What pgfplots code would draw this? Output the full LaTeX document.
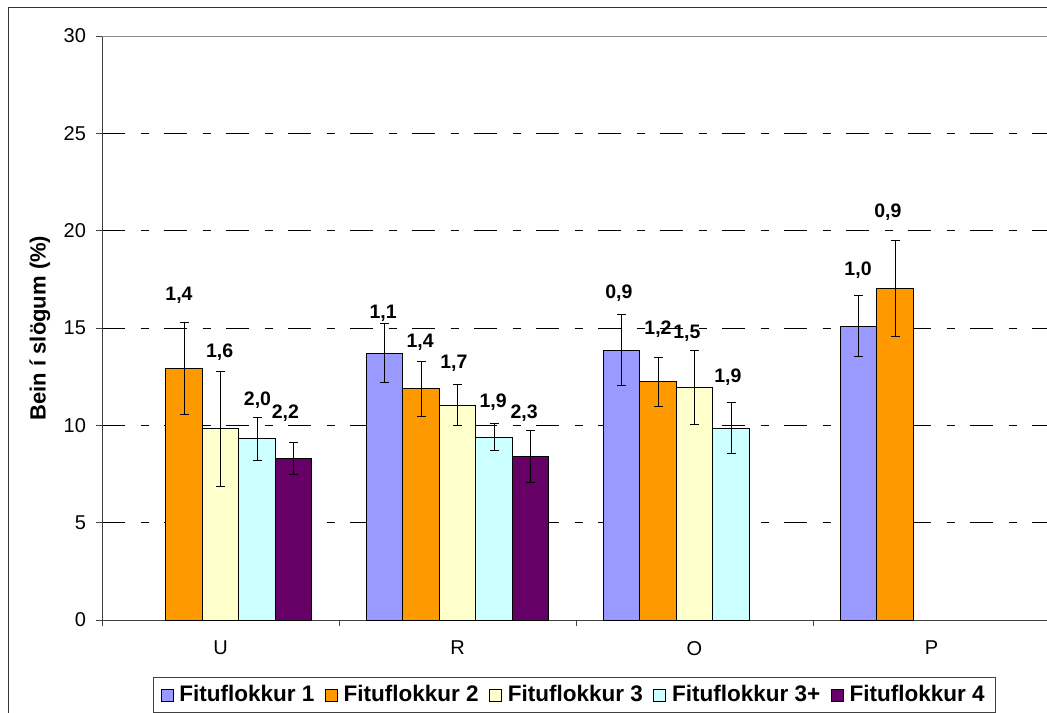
\documentclass[border=0pt]{standalone}
\usepackage{pgfplots}
\pgfplotsset{compat=1.18}
\usepackage{fontspec}
\setmainfont{Liberation Sans}
\definecolor{c1}{HTML}{9999FF}
\definecolor{c2}{HTML}{FF9900}
\definecolor{c3}{HTML}{FFFFCC}
\definecolor{c4}{HTML}{CCFFFF}
\definecolor{c5}{HTML}{660066}
\pgfplotsset{
  eb/.style={
    error bars/y dir=both, error bars/y explicit,
    error bars/error bar style={line width=0.5pt, black},
    error bars/error mark options={black, line width=0.5pt, mark size=2.25pt, rotate=90}
  },
  bs/.style={draw=black, line width=0.5pt, fill=#1}
}
\begin{document}
\begin{tikzpicture}
\path[use as bounding box] (0,0) rectangle (523.5pt,-356pt);
\draw[line width=0.75pt, black!80] (4.15pt,-3.65pt) rectangle (560pt,-400pt);
\begin{axis}[
  at={(51pt,-310pt)}, anchor=south west,
  scale only axis, width=474pt, height=292pt,
  xmin=-0.5, xmax=3.5, ymin=0, ymax=30,
  enlargelimits=false,
  axis x line*=bottom, axis y line*=left,
  axis line style={black!75, line width=0.5pt},
  tick align=outside,
  major tick length=3pt,
  tick style={black!75, line width=0.5pt},
  xtick={-0.5,0.5,1.5,2.5,3.5}, xticklabels={},
  extra x ticks={0,1,2,3}, extra x tick labels={U,R,O,P},
  extra x tick style={major tick length=0pt, xticklabel style={yshift=-7pt}},
  ytick={0,5,10,15,20,25},
  extra y ticks={30}, extra y tick style={grid=none},
  ymajorgrids,
  major grid style={black, line width=0.5pt, dash pattern=on 11.5pt off 7.75pt on 4pt off 7.75pt},
  ticklabel style={font=\fontsize{10}{12}\selectfont},
  yticklabel style={xshift=-1.5pt},
  /pgf/number format/assume math mode=true,
  ylabel={Bein í slögum (\%)},
  ylabel style={font=\bfseries\fontsize{11}{13}\selectfont, at={(axis description cs:-0.0654,0.5)}, anchor=center},
  ybar=0pt, bar width=0.154,
  legend columns=5,
  legend style={at={(0.0538,-0.0976)}, anchor=north west, draw=black!75, line width=0.5pt, fill=white,
    inner xsep=3.5pt,
    font=\bfseries\fontsize{11.25}{13}\selectfont,
    /tikz/every odd column/.append style={column sep=1pt},
    /tikz/every even column/.append style={column sep=3.25pt}},
  legend image code/.code={\draw[#1, draw=black, line width=0.4pt] (0pt,-3pt) rectangle (6pt,3pt);},
]
\addplot[bs=c1, bar shift=-0.308, eb] coordinates {(1,13.70) +- (0,1.52) (2,13.87) +- (0,1.83) (3,15.10) +- (0,1.57)};
\addplot[bs=c2, bar shift=-0.154, eb] coordinates {(0,12.93) +- (0,2.35) (1,11.87) +- (0,1.43) (2,12.24) +- (0,1.27) (3,17.04) +- (0,2.47)};
\addplot[bs=c3, bar shift=0, eb] coordinates {(0,9.83) +- (0,2.95) (1,11.04) +- (0,1.07) (2,11.92) +- (0,1.90)};
\addplot[bs=c4, bar shift=0.154, eb] coordinates {(0,9.31) +- (0,1.11) (1,9.40) +- (0,0.70) (2,9.85) +- (0,1.32)};
\addplot[bs=c5, bar shift=0.308, eb] coordinates {(0,8.32) +- (0,0.82) (1,8.39) +- (0,1.32)};
\legend{Fituflokkur 1,Fituflokkur 2,Fituflokkur 3,Fituflokkur 3+,Fituflokkur 4}
\draw[black!45, line width=0.5pt] (rel axis cs:0,1) -- (rel axis cs:1,1);
\begin{scope}[every node/.style={font=\bfseries\fontsize{9.75}{11}\selectfont, anchor=center, inner sep=0pt}]
\node at (axis cs:-0.175,16.70) {1,4};
\node at (axis cs:-0.004,13.77) {1,6};
\node at (axis cs:0.156,11.30) {2,0};
\node at (axis cs:0.274,10.63) {2,2};
\node at (axis cs:0.686,15.77) {1,1};
\node at (axis cs:0.842,14.28) {1,4};
\node at (axis cs:0.985,13.20) {1,7};
\node at (axis cs:1.150,11.20) {1,9};
\node at (axis cs:1.281,10.63) {2,3};
\node at (axis cs:1.681,16.80) {0,9};
\node at (axis cs:1.846,14.95) {1,2};
\node at (axis cs:1.968,14.74) {1,5};
\node at (axis cs:2.141,12.48) {1,9};
\node at (axis cs:2.690,17.98) {1,0};
\node at (axis cs:2.816,20.96) {0,9};
\end{scope}
\end{axis}
\end{tikzpicture}
\end{document}
